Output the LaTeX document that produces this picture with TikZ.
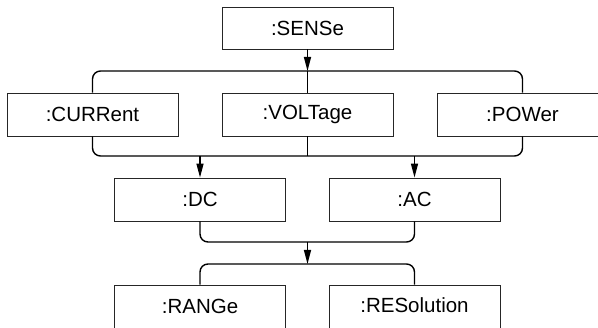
\documentclass[tikz,border=0pt]{standalone}
\usepackage{fontspec}
\setmainfont{Liberation Sans}
\usetikzlibrary{arrows.meta}
\begin{document}
\begin{tikzpicture}[x=1pt,y=-1pt,
  box/.style={draw=black!85, line width=0.9pt, minimum width=171pt, minimum height=43pt,
    inner sep=0pt, font=\fontsize{20.5}{24}\selectfont, fill=white},
  bracket/.style={line width=1.4pt, rounded corners=8pt},
  arr/.style={line width=1.4pt, -{Triangle[length=14pt,width=7pt]}}]
\useasboundingbox (0,0) rectangle (598,328);
\clip (0,0) rectangle (598,328);
\node[box, minimum height=42pt] (sense) at (307.5,28) {:SENSe};
\node[box] (cur) at (92.5,114.5) {:CURRent};
\node[box] (vol) at (307.5,114.5) {:VOLTage};
\node[box] (pow) at (522.5,114.5) {:POWer};
\node[box] (dc) at (200,199.5) {:DC};
\node[box] (ac) at (414.5,199.5) {:AC};
\node[box] (rng) at (200,306.5) {:RANGe};
\node[box] (res) at (414.5,306.5) {\raisebox{2pt}{:RESolution}};
\coordinate (t1) at (307.5,71);
\coordinate (u1) at (307.5,156);
\coordinate (u2) at (307.5,242);
\coordinate (t3) at (307.5,264);
% top bracket of level 2
\draw[bracket] (cur.north) |- (t1) -| (pow.north);
\draw[line width=1.4pt] (t1) -- (vol.north);
\draw[arr] (sense.south) -- (t1);
% bottom bracket of level 2
\draw[bracket] (cur.south) |- (u1) -| (pow.south);
\draw[line width=1.4pt] (vol.south) -- (u1);
\draw[arr] (dc.north |- u1) -- (dc.north);
\draw[arr] (ac.north |- u1) -- (ac.north);
% bracket under DC / AC
\draw[bracket] (dc.south) |- (u2) -| (ac.south);
\draw[arr] (u2) -- (t3);
% bracket over RANGe / RESolution
\draw[bracket] (rng.north) |- (t3) -| (res.north);
\end{tikzpicture}
\end{document}
